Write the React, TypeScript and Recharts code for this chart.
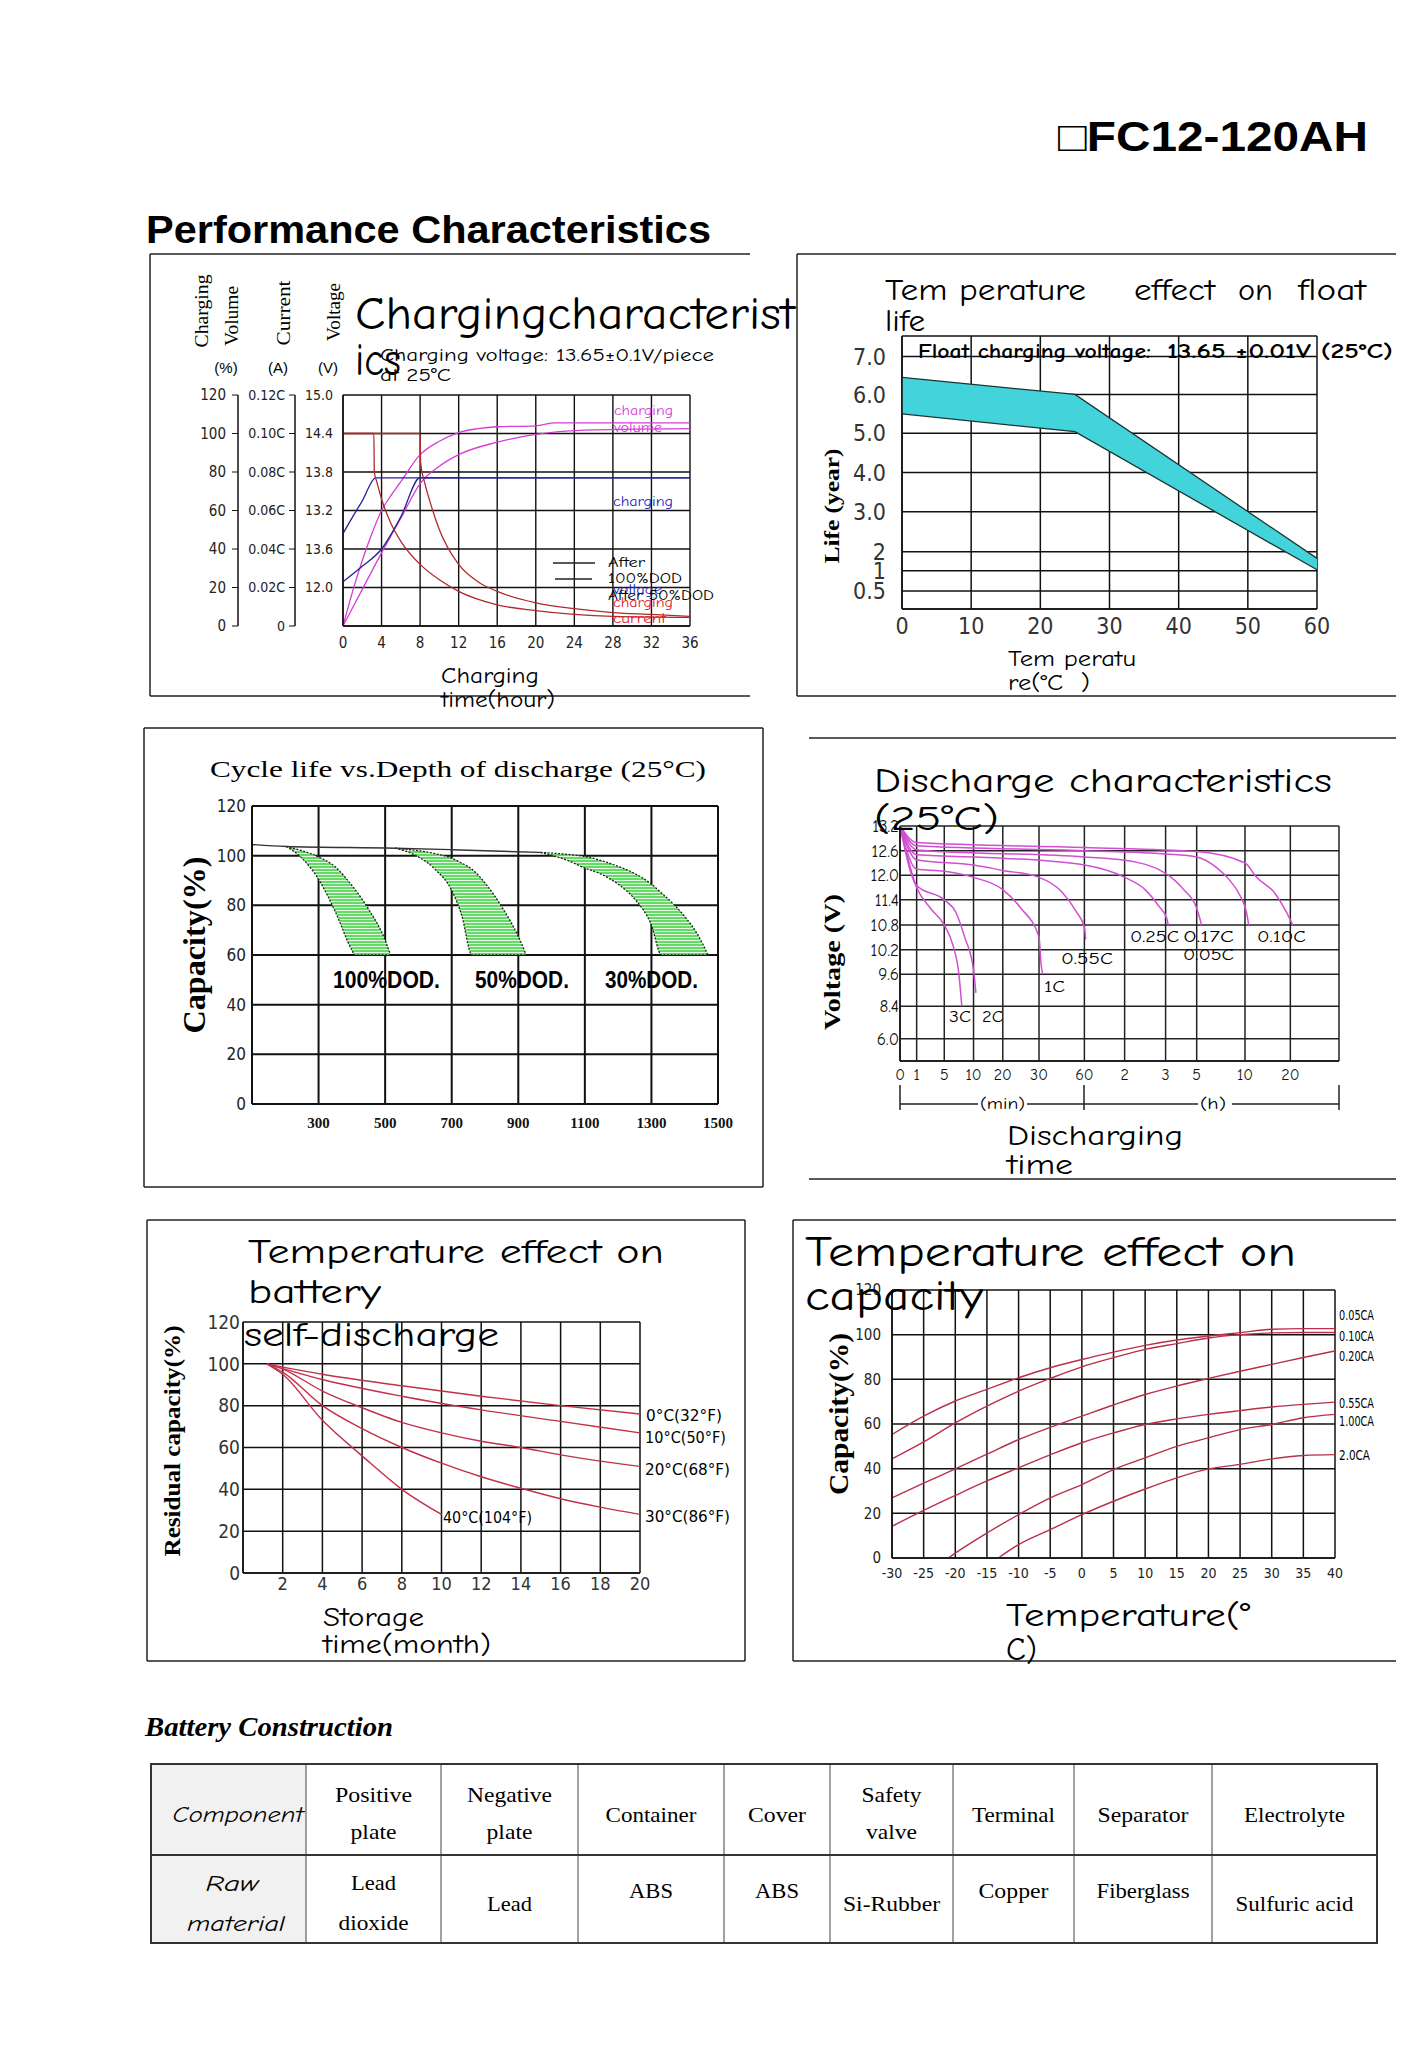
import React from 'react';
import { ComposedChart, Line, Area, XAxis, YAxis, CartesianGrid } from 'recharts';

const HAND = "'Comic Neue','Comic Sans MS','Noto Sans','DejaVu Sans',sans-serif";
const SERIF = "'Liberation Serif','Times New Roman',serif";
const SANS = "'Liberation Sans',Arial,sans-serif";
const NARROW = "'Liberation Sans Narrow','DejaVu Sans Condensed','Liberation Sans',sans-serif";
const GRID = '#111';

// ---------------- Chart 1: charging characteristics ----------------
const chargeHourTicks = [0, 4, 8, 12, 16, 20, 24, 28, 32, 36];
const volumeTicks = [0, 20, 40, 60, 80, 100, 120];
const currentTicks = [0, 0.02, 0.04, 0.06, 0.08, 0.1, 0.12];
const currentTickLabels = ['0', '0.02C', '0.04C', '0.06C', '0.08C', '0.10C', '0.12C'];
const voltageTicks = [12.0, 12.6, 13.2, 13.8, 14.4, 15.0];
const voltageTickLabels = ['12.0', '13.6', '13.2', '13.8', '14.4', '15.0'];

const volume50Hours = [0, 1, 2, 3, 4, 5, 6, 8, 10, 12, 14, 16, 20, 22, 36];
const volume50Values = [0, 18, 34, 48, 60, 68, 75, 89, 96, 100.5, 102.5, 103.5, 104, 105.5, 105.5];
const volume100Hours = [0, 2, 4, 6, 8, 10, 12, 16, 20, 24, 36];
const volume100Values = [0, 19, 38, 56, 74, 83, 89, 95.5, 99.5, 101.5, 102.5];
const voltage50Hours = [0, 1, 2, 3.4, 36];
const voltage50Values = [12.84, 13.1, 13.35, 13.71, 13.71];
const voltage100Hours = [0, 2, 4, 6, 8, 36];
const voltage100Values = [12.09, 12.33, 12.6, 13.1, 13.71, 13.71];
const current50Hours = [0, 3.2, 3.25, 3.5, 4, 5, 6, 8, 10, 12, 16, 20, 24, 28, 36];
const current50Values = [0.1, 0.1, 0.08, 0.075, 0.066, 0.053, 0.044, 0.032, 0.024, 0.018, 0.011, 0.008, 0.006, 0.005, 0.0045];
const current100Hours = [0, 8, 8.05, 8.5, 9, 10, 12, 14, 16, 20, 24, 28, 32, 36];
const current100Values = [0.1, 0.1, 0.085, 0.074, 0.065, 0.05, 0.032, 0.023, 0.018, 0.012, 0.009, 0.007, 0.006, 0.005];

// ---------------- Chart 2: temperature effect on float life ----------------
const floatTempTicks = [0, 10, 20, 30, 40, 50, 60];
const lifeTickValues = [0.5, 1, 2, 3, 4, 5, 6, 7];
const lifeTickLabels = ['0.5', '1', '2', '3.0', '4.0', '5.0', '6.0', '7.0'];
const lifeTickSpots = [0.46, 0.975, 1.46, 2.48, 3.48, 4.48, 5.47, 6.44];
const floatTemps = [0, 25, 60];
const floatLifeHigh = [6.45, 6.0, 1.65];
const floatLifeLow = [5.5, 5.04, 1.05];

// ---------------- Chart 3: cycle life vs DOD ----------------
const cycleTicks = [300, 500, 700, 900, 1100, 1300, 1500];
const capacityTicks = [0, 20, 40, 60, 80, 100, 120];
const baseCycles = [100, 203, 530, 700, 967];
const baseCapacity = [104.5, 103.7, 103, 102.4, 101.3];
const dod100Cycles = [203, 250, 300, 350, 400, 409, 450, 500, 516];
const dod100Upper = [103.7, 102, 99.5, 95.5, 88, 86.5, 78.5, 66, 60];
const dod100Lower = [103.7, 99, 90.5, 77.5, 62, 60, 60, 60, 60];
const dod50Cycles = [530, 600, 650, 700, 730, 761, 800, 850, 900, 924];
const dod50Upper = [103, 102, 100.8, 99, 97, 94.5, 89, 79.5, 67.5, 60];
const dod50Lower = [103, 99.5, 94.5, 86, 76, 60, 60, 60, 60, 60];
const dod30Cycles = [967, 1050, 1100, 1150, 1200, 1250, 1300, 1330, 1370, 1400, 1440, 1470];
const dod30Upper = [101.3, 100.5, 99.7, 98, 95.7, 92.8, 88.5, 85, 80, 75.5, 68, 60];
const dod30Lower = [101.3, 98, 95, 92.5, 88.5, 82.5, 72, 60, 60, 60, 60, 60];

// ---------------- Chart 4: discharge characteristics ----------------
const dischargeTickMinutes = [0, 1, 5, 10, 20, 30, 60, 120, 180, 300, 600, 1200, 1800];
const dischargeTickLabels = ['0', '1', '5', '10', '20', '30', '60', '2', '3', '5', '10', '20', ''];
const dischargeTickSpots = [0, 0.455, 1.21, 2.01, 2.81, 3.8, 5.04, 6.14, 7.26, 8.11, 9.43, 10.67, 12];
const dischargeVoltTicks = [6.0, 8.4, 9.6, 10.2, 10.8, 11.4, 12.0, 12.6, 13.2];
const dischargeVoltLabels = ['6.0', '8.4', '9.6', '10.2', '10.8', '11.4', '12.0', '12.6', '13.2'];
const dischargeVoltSpots = [0.91, 2.23, 3.54, 4.54, 5.54, 6.57, 7.57, 8.57, 9.58];
const d3cMin = [0, 1, 3, 5, 6.5, 7.5, 8];
const d3cVolt = [13.2, 11.7, 11.2, 10.8, 10.3, 9.6, 8.4];
const d2cMin = [0, 1, 5, 7, 8.5, 10, 10.8];
const d2cVolt = [13.2, 11.75, 11.4, 11.1, 10.5, 9.7, 8.9];
const d1cMin = [0, 1, 5, 10, 20, 25, 30, 31.5, 32.5];
const d1cVolt = [13.2, 12.15, 12.1, 11.95, 11.65, 11.2, 10.5, 9.8, 9.6];
const d055Min = [0, 1, 10, 20, 30, 45, 55, 60, 62];
const d055Volt = [13.2, 12.38, 12.25, 12.12, 11.95, 11.6, 11.1, 10.75, 10.45];
const d025Min = [0, 1, 20, 60, 120, 150, 170, 185, 190];
const d025Volt = [13.2, 12.5, 12.42, 12.25, 11.95, 11.65, 11.25, 10.95, 10.8];
const d017Min = [0, 1, 60, 120, 180, 250, 300, 320, 330];
const d017Volt = [13.2, 12.62, 12.45, 12.37, 12.05, 11.65, 11.2, 10.95, 10.8];
const d010Min = [0, 1, 60, 180, 300, 420, 500, 570, 620, 650];
const d010Volt = [13.2, 12.72, 12.6, 12.52, 12.45, 12.2, 11.9, 11.5, 11.1, 10.8];
const d005Min = [0, 1, 60, 300, 600, 750, 1000, 1150, 1230];
const d005Volt = [13.2, 12.8, 12.68, 12.58, 12.3, 11.96, 11.55, 11.1, 10.8];

// ---------------- Chart 5: self-discharge ----------------
const storageTicks = [0, 2, 4, 6, 8, 10, 12, 14, 16, 18, 20];
const residualTicks = [0, 20, 40, 60, 80, 100, 120];
const sd0Months = [1.2, 4, 8, 12, 16, 20];
const sd0Values = [100, 95, 89.5, 84.5, 80, 76];
const sd10Months = [1.2, 4, 8, 12, 16, 20];
const sd10Values = [100, 92.5, 84.5, 78, 72.5, 67];
const sd20Months = [1.2, 2, 4, 6, 8, 10, 12, 14, 16, 18, 20];
const sd20Values = [100, 97.5, 87, 79, 72, 67, 63, 60, 56.5, 53.5, 51];
const sd30Months = [1.2, 2, 4, 6, 8, 10, 12, 14, 16, 18, 20];
const sd30Values = [100, 96, 80, 69, 60, 52.5, 46, 40.5, 35.5, 31.5, 28];
const sd40Months = [1.2, 2, 4, 6, 8, 10];
const sd40Values = [100, 95, 73, 56, 40, 28];

// ---------------- Chart 6: temperature effect on capacity ----------------
const tempTicks = [-30, -25, -20, -15, -10, -5, 0, 5, 10, 15, 20, 25, 30, 35, 40];
const capTicks = [0, 20, 40, 60, 80, 100, 120];
const fullTemps = [-30, -25, -20, -15, -10, -5, 0, 5, 10, 15, 20, 25, 30, 35, 40];
const cap005 = [55.3, 63.5, 70.3, 75.5, 80.7, 85.2, 88.9, 92.2, 95.2, 97.6, 99.4, 100.9, 102.4, 102.7, 102.7];
const cap010 = [44.4, 52, 60.5, 68, 74.7, 80.4, 85.6, 89.7, 93.4, 96, 98.5, 100, 100.8, 101, 101];
const cap020 = [26.9, 33.5, 39.9, 46.5, 53, 58.5, 63.5, 68.5, 73.2, 77, 80.4, 83.6, 86.7, 89.8, 92.7];
const cap055 = [14.2, 21.3, 28, 34.5, 40.4, 46.2, 51.6, 56, 59.8, 62.3, 64.3, 66, 67.6, 68.8, 69.8];
const cap100Temps = [-21.1, -20, -15, -10, -5, 0, 5, 10, 15, 20, 25, 30, 35, 40];
const cap100 = [0, 2.2, 11.2, 19.4, 26.9, 32.9, 39.6, 44.8, 50, 53.8, 57.5, 59.8, 62.8, 64.3];
const cap200Temps = [-13.2, -10, -5, 0, 5, 10, 15, 20, 25, 30, 35, 40];
const cap200 = [0, 6, 12.7, 19.4, 25.4, 30.9, 35.9, 39.9, 41.9, 44.4, 45.9, 46.3];

// ---------------- Table ----------------
const tableComponents = ['Positive\nplate', 'Negative\nplate', 'Container', 'Cover', 'Safety\nvalve', 'Terminal', 'Separator', 'Electrolyte'];
const tableMaterials = ['Lead\ndioxide', 'Lead', 'ABS', 'ABS', 'Si-Rubber', 'Copper', 'Fiberglass', 'Sulfuric acid'];

// ---------------- helpers ----------------
function piecewise(v: number, xs: number[], ys: number[]) {
  const n = xs.length;
  if (v <= xs[0]) return ys[0] + ((v - xs[0]) * (ys[1] - ys[0])) / (xs[1] - xs[0]);
  for (let i = 1; i < n; i++) {
    if (v <= xs[i]) return ys[i - 1] + ((v - xs[i - 1]) / (xs[i] - xs[i - 1])) * (ys[i] - ys[i - 1]);
  }
  return ys[n - 1] + ((v - xs[n - 1]) * (ys[n - 1] - ys[n - 2])) / (xs[n - 1] - xs[n - 2]);
}
const zip = (xs: number[], ys: number[]) => xs.map((x, i) => ({ x, y: ys[i] }));
const idx = (arr: number[], v: number) => arr.findIndex((a) => Math.abs(a - v) < 1e-6);
const lifeSpot = (v: number) => piecewise(v, lifeTickValues, lifeTickSpots);
const minuteSpot = (m: number) => piecewise(m, dischargeTickMinutes, dischargeTickSpots);
const voltSpot = (v: number) => piecewise(v, dischargeVoltTicks, dischargeVoltSpots);
const band = (xs: number[], lo: number[], hi: number[]) => xs.map((x, i) => ({ x, band: [lo[i], hi[i]] }));
const dischargeSeries = (ms: number[], vs: number[]) => ms.map((m, i) => ({ x: minuteSpot(m), y: voltSpot(vs[i]) }));

const axisLine = { stroke: GRID, strokeWidth: 1.5 };

function ChargingChart() {
  const MAG = '#d63cd6';
  const BLUE = '#23239a';
  const RED = '#b02a2a';
  const common = { type: 'monotone' as const, dot: false, isAnimationActive: false, dataKey: 'y', xAxisId: 'h' };
  return (
    <ComposedChart width={600} height={442} margin={{ top: 141, right: 60, bottom: 40, left: 8 }}>
      <CartesianGrid xAxisId="h" yAxisId="y3" stroke={GRID} strokeWidth={1.4} />
      <XAxis xAxisId="h" type="number" dataKey="x" domain={[0, 36]} ticks={chargeHourTicks} interval={0} height={30}
        axisLine={axisLine} tickLine={false} tickSize={6} tickMargin={5}
        tick={{ fontSize: 15, fill: '#222', fontFamily: NARROW }} />
      <YAxis yAxisId="y1" type="number" domain={[11.4, 15]} ticks={voltageTicks} interval={0} width={48}
        axisLine={axisLine} tickLine={false} tickSize={6} tickMargin={4}
        tickFormatter={(v: number) => voltageTickLabels[idx(voltageTicks, v)] ?? ''}
        tick={{ fontSize: 14, fill: '#222', fontFamily: NARROW }} />
      <YAxis yAxisId="y2" type="number" domain={[0, 0.12]} ticks={currentTicks} interval={0} width={57}
        axisLine={axisLine} tickLine={{ stroke: GRID }} tickSize={6} tickMargin={4}
        tickFormatter={(v: number) => currentTickLabels[idx(currentTicks, v)] ?? ''}
        tick={{ fontSize: 14, fill: '#222', fontFamily: NARROW }} />
      <YAxis yAxisId="y3" type="number" domain={[0, 120]} ticks={volumeTicks} interval={0} width={80}
        axisLine={axisLine} tickLine={{ stroke: GRID }} tickSize={6} tickMargin={6}
        tick={{ fontSize: 15, fill: '#222', fontFamily: NARROW }} />
      <Line {...common} yAxisId="y3" data={zip(volume50Hours, volume50Values)} stroke={MAG} strokeWidth={1.3} />
      <Line {...common} yAxisId="y3" data={zip(volume100Hours, volume100Values)} stroke={MAG} strokeWidth={1.3} />
      <Line {...common} yAxisId="y1" data={zip(voltage50Hours, voltage50Values)} stroke={BLUE} strokeWidth={1.3} />
      <Line {...common} yAxisId="y1" data={zip(voltage100Hours, voltage100Values)} stroke={BLUE} strokeWidth={1.3} />
      <Line {...common} yAxisId="y2" data={zip(current50Hours, current50Values)} stroke={RED} strokeWidth={1.3} />
      <Line {...common} yAxisId="y2" data={zip(current100Hours, current100Values)} stroke={RED} strokeWidth={1.3} />
    </ComposedChart>
  );
}

function FloatLifeChart() {
  const rows = floatTemps.map((t, i) => ({ x: t, band: [lifeSpot(floatLifeLow[i]), lifeSpot(floatLifeHigh[i])] }));
  return (
    <ComposedChart width={600} height={442} data={rows} margin={{ top: 82, right: 79, bottom: 57, left: 36 }}>
      <CartesianGrid stroke={GRID} strokeWidth={1.5} />
      <XAxis type="number" dataKey="x" domain={[0, 60]} ticks={floatTempTicks} interval={0} height={30}
        axisLine={axisLine} tickLine={false} tickSize={6} tickMargin={3}
        tick={{ fontSize: 23, fill: '#333', fontFamily: NARROW }} />
      <YAxis type="number" domain={[0, 6.96]} ticks={lifeTickSpots} interval={0} width={70}
        axisLine={axisLine} tickLine={false} tickSize={6} tickMargin={10}
        tickFormatter={(v: number) => lifeTickLabels[idx(lifeTickSpots, v)] ?? ''}
        tick={{ fontSize: 23, fill: '#333', fontFamily: NARROW }} />
      <Area type="linear" dataKey="band" fill="#42d4da" fillOpacity={1} stroke="#1d3434" strokeWidth={1.3} isAnimationActive={false} />
    </ComposedChart>
  );
}

function CycleLifeChart() {
  const areaProps = { type: 'monotone' as const, dataKey: 'band', fill: 'url(#greenStripes)', fillOpacity: 1, stroke: '#222', strokeWidth: 1.3, strokeDasharray: '2 1.5', isAnimationActive: false };
  return (
    <ComposedChart width={619} height={459} margin={{ top: 78, right: 45, bottom: 53, left: 48 }}>
      <CartesianGrid stroke={GRID} strokeWidth={2} />
      <XAxis type="number" dataKey="x" domain={[100, 1500]} ticks={cycleTicks} interval={0} height={30}
        axisLine={{ stroke: GRID, strokeWidth: 2 }} tickLine={false} tickSize={6} tickMargin={7}
        tick={{ fontSize: 15, fill: '#111', fontFamily: SERIF, fontWeight: 700 }} />
      <YAxis type="number" domain={[0, 120]} ticks={capacityTicks} interval={0} width={60}
        axisLine={{ stroke: GRID, strokeWidth: 2 }} tickLine={false} tickSize={6} tickMargin={0}
        tick={{ fontSize: 17, fill: '#222', fontFamily: NARROW }} />
      <Area {...areaProps} data={band(dod100Cycles, dod100Lower, dod100Upper)} />
      <Area {...areaProps} data={band(dod50Cycles, dod50Lower, dod50Upper)} />
      <Area {...areaProps} data={band(dod30Cycles, dod30Lower, dod30Upper)} />
      <Line type="monotone" data={zip(baseCycles, baseCapacity)} dataKey="y" dot={false} stroke="#333" strokeWidth={1.4} isAnimationActive={false} />
    </ComposedChart>
  );
}

function DischargeChart() {
  const C = '#d24ed2';
  const series = [
    dischargeSeries(d3cMin, d3cVolt), dischargeSeries(d2cMin, d2cVolt), dischargeSeries(d1cMin, d1cVolt),
    dischargeSeries(d055Min, d055Volt), dischargeSeries(d025Min, d025Volt), dischargeSeries(d017Min, d017Volt),
    dischargeSeries(d010Min, d010Volt), dischargeSeries(d005Min, d005Volt),
  ];
  return (
    <ComposedChart width={587} height={440} margin={{ top: 87, right: 57, bottom: 93, left: 31 }}>
      <CartesianGrid stroke="#222" strokeWidth={1.5} />
      <XAxis type="number" dataKey="x" domain={[0, 12]} ticks={dischargeTickSpots} interval={0} height={25}
        axisLine={axisLine} tickLine={false} tickSize={6} tickMargin={2}
        tickFormatter={(v: number) => dischargeTickLabels[idx(dischargeTickSpots, v)] ?? ''}
        tick={{ fontSize: 16, fill: '#111', fontFamily: HAND }} />
      <YAxis type="number" domain={[0, 9.58]} ticks={dischargeVoltSpots} interval={0} width={60}
        axisLine={axisLine} tickLine={false} tickSize={0} tickMargin={1}
        tickFormatter={(v: number) => dischargeVoltLabels[idx(dischargeVoltSpots, v)] ?? ''}
        tick={{ fontSize: 17, fill: '#111', fontFamily: HAND }} />
      {series.map((d, i) => (
        <Line key={i} type="monotone" data={d} dataKey="y" dot={false} stroke={C} strokeWidth={1.5} isAnimationActive={false} />
      ))}
    </ComposedChart>
  );
}

function SelfDischargeChart() {
  const C = '#c4304a';
  const series = [zip(sd0Months, sd0Values), zip(sd10Months, sd10Values), zip(sd20Months, sd20Values), zip(sd30Months, sd30Values), zip(sd40Months, sd40Values)];
  return (
    <ComposedChart width={598} height={441} margin={{ top: 102, right: 105, bottom: 63, left: 46 }}>
      <CartesianGrid stroke={GRID} strokeWidth={1.5} />
      <XAxis type="number" dataKey="x" domain={[0, 20]} ticks={storageTicks} interval={0} height={25}
        axisLine={axisLine} tickLine={false} tickSize={0} tickMargin={4}
        tickFormatter={(v: number) => (v === 0 ? '' : String(v))}
        tick={{ fontSize: 18, fill: '#333', fontFamily: NARROW }} />
      <YAxis type="number" domain={[0, 120]} ticks={residualTicks} interval={0} width={50}
        axisLine={axisLine} tickLine={false} tickSize={0} tickMargin={3}
        tick={{ fontSize: 19, fill: '#333', fontFamily: NARROW }} />
      {series.map((d, i) => (
        <Line key={i} type="monotone" data={d} dataKey="y" dot={false} stroke={C} strokeWidth={1.4} isAnimationActive={false} />
      ))}
    </ComposedChart>
  );
}

function TempCapacityChart() {
  const C = '#b8304a';
  const series = [zip(fullTemps, cap005), zip(fullTemps, cap010), zip(fullTemps, cap020), zip(fullTemps, cap055), zip(cap100Temps, cap100), zip(cap200Temps, cap200)];
  return (
    <ComposedChart width={603} height={441} margin={{ top: 70, right: 61, bottom: 78, left: 59 }}>
      <CartesianGrid stroke={GRID} strokeWidth={1.5} />
      <XAxis type="number" dataKey="x" domain={[-30, 40]} ticks={tempTicks} interval={0} height={25}
        axisLine={axisLine} tickLine={false} tickSize={6} tickMargin={4}
        tick={{ fontSize: 14, fill: '#222', fontFamily: NARROW }} />
      <YAxis type="number" domain={[0, 120]} ticks={capTicks} interval={0} width={40}
        axisLine={axisLine} tickLine={false} tickSize={6} tickMargin={5}
        tick={{ fontSize: 15, fill: '#222', fontFamily: NARROW }} />
      {series.map((d, i) => (
        <Line key={i} type="monotone" data={d} dataKey="y" dot={false} stroke={C} strokeWidth={1.4} isAnimationActive={false} />
      ))}
    </ComposedChart>
  );
}

type Ann = { t: string; x: number; y: number; s: number; w?: number; f?: string; b?: number; c?: string; it?: boolean; a?: 'start' | 'middle' | 'end'; r?: boolean };

const MAGT = '#d63cd6';
const BLUET = '#2323c0';
const REDT = '#e0202a';

const annotations: Ann[] = [
  { t: '\u25A1FC12-120AH', x: 1058, y: 151, s: 42, w: 310, f: SANS, b: 700 },
  { t: 'Performance Characteristics', x: 146, y: 243, s: 38, w: 565, f: SANS, b: 700 },
  // chart 1
  { t: 'Chargingcharacterist', x: 355, y: 329, s: 46, w: 440 },
  { t: 'ics', x: 355, y: 375, s: 46, w: 46 },
  { t: 'Charging voltage: 13.65±0.1V/piece', x: 380, y: 361, s: 18, w: 334 },
  { t: 'at 25°C', x: 380, y: 381, s: 18, w: 71 },
  { t: 'Charging', x: 201, y: 311, s: 19, w: 73, f: SERIF, r: true },
  { t: 'Volume', x: 231, y: 316, s: 19, w: 60, f: SERIF, r: true },
  { t: 'Current', x: 283, y: 313, s: 19, w: 65, f: SERIF, r: true },
  { t: 'Voltage', x: 333, y: 312, s: 19, w: 58, f: SERIF, r: true },
  { t: '(%)', x: 226, y: 373, s: 15, f: SANS, a: 'middle' },
  { t: '(A)', x: 278, y: 373, s: 15, f: SANS, a: 'middle' },
  { t: '(V)', x: 328, y: 373, s: 15, f: SANS, a: 'middle' },
  { t: 'charging', x: 614, y: 415, s: 14, w: 59, c: MAGT },
  { t: 'volume', x: 614, y: 432, s: 14, w: 48, c: MAGT },
  { t: 'charging', x: 613, y: 506, s: 14, w: 60, c: BLUET },
  { t: 'After', x: 608, y: 567, s: 14, w: 37 },
  { t: '100%DOD', x: 608, y: 583, s: 14, w: 74 },
  { t: 'voltage', x: 613, y: 594, s: 14, w: 49, c: BLUET },
  { t: 'After 50%DOD', x: 608, y: 600, s: 14, w: 106 },
  { t: 'charging', x: 613, y: 607, s: 14, w: 60, c: REDT },
  { t: 'current', x: 613, y: 623, s: 14, w: 53, c: REDT },
  { t: 'Charging', x: 441, y: 683, s: 22, w: 98 },
  { t: 'time(hour)', x: 441, y: 707, s: 22, w: 114 },
  // chart 2
  { t: 'Tem perature', x: 885, y: 300, s: 31, w: 201 },
  { t: 'effect', x: 1134, y: 300, s: 31, w: 81 },
  { t: 'on', x: 1238, y: 300, s: 31, w: 35 },
  { t: 'float', x: 1298, y: 300, s: 31, w: 68 },
  { t: 'life', x: 885, y: 331, s: 31, w: 40 },
  { t: 'Float charging voltage:', x: 918, y: 358, s: 20, w: 233, b: 600 },
  { t: '13.65 ±0.01V (25°C)', x: 1167, y: 358, s: 20, w: 226, b: 600 },
  { t: 'Life (year)', x: 831, y: 506, s: 22, w: 115, f: SERIF, b: 700, r: true },
  { t: 'Tem peratu', x: 1008, y: 666, s: 22, w: 128 },
  { t: 're(°C\u00a0\u00a0)', x: 1008, y: 690, s: 22, w: 82 },
  // chart 3
  { t: 'Cycle life vs.Depth of discharge (25°C)', x: 210, y: 777, s: 24, w: 496, f: SERIF },
  { t: '100%DOD.', x: 333, y: 988, s: 23, w: 107, f: SANS, b: 700 },
  { t: '50%DOD.', x: 475, y: 988, s: 23, w: 94, f: SANS, b: 700 },
  { t: '30%DOD.', x: 605, y: 988, s: 23, w: 93, f: SANS, b: 700 },
  { t: 'Capacity(%)', x: 194, y: 945, s: 32, w: 177, f: SERIF, b: 700, r: true },
  // chart 4
  { t: 'Discharge characteristics', x: 874, y: 792, s: 35, w: 458 },
  { t: '(25°C)', x: 874, y: 830, s: 35, w: 125 },
  { t: '0.25C', x: 1130, y: 942, s: 16, w: 49 },
  { t: '0.17C', x: 1183, y: 942, s: 16, w: 51 },
  { t: '0.10C', x: 1257, y: 942, s: 16, w: 49 },
  { t: '0.05C', x: 1183, y: 960, s: 16, w: 51 },
  { t: '0.55C', x: 1061, y: 964, s: 16, w: 52 },
  { t: '1C', x: 1044, y: 992, s: 16, w: 21 },
  { t: '3C', x: 949, y: 1022, s: 16, w: 22 },
  { t: '2C', x: 982, y: 1022, s: 16, w: 21 },
  { t: 'Voltage (V)', x: 832, y: 962, s: 24, w: 136, f: SERIF, b: 700, r: true },
  { t: '(min)', x: 980, y: 1109, s: 15, w: 45 },
  { t: '(h)', x: 1200, y: 1109, s: 15, w: 26 },
  { t: 'Discharging', x: 1007, y: 1145, s: 28, w: 176 },
  { t: 'time', x: 1007, y: 1174, s: 28, w: 66 },
  // chart 5
  { t: 'Temperature effect on', x: 248, y: 1263, s: 35, w: 416 },
  { t: 'battery', x: 248, y: 1303, s: 35, w: 133 },
  { t: 'self-discharge', x: 244, y: 1346, s: 35, w: 255 },
  { t: '0°C(32°F)', x: 646, y: 1421, s: 16, w: 76, f: NARROW },
  { t: '10°C(50°F)', x: 645, y: 1443, s: 16, w: 81, f: NARROW },
  { t: '20°C(68°F)', x: 645, y: 1475, s: 16, w: 85, f: NARROW },
  { t: '30°C(86°F)', x: 645, y: 1522, s: 16, w: 85, f: NARROW },
  { t: '40°C(104°F)', x: 443, y: 1523, s: 16, w: 89, f: NARROW },
  { t: 'Residual capacity(%)', x: 172, y: 1441, s: 24, w: 231, f: SERIF, b: 700, r: true },
  { t: 'Storage', x: 323, y: 1626, s: 27, w: 101 },
  { t: 'time(month)', x: 323, y: 1653, s: 27, w: 168 },
  // chart 6
  { t: 'Temperature effect on', x: 805, y: 1266, s: 42, w: 491 },
  { t: 'capacity', x: 805, y: 1310, s: 42, w: 178 },
  { t: '0.05CA', x: 1339, y: 1320, s: 14, w: 35, f: NARROW },
  { t: '0.10CA', x: 1339, y: 1341, s: 14, w: 35, f: NARROW },
  { t: '0.20CA', x: 1339, y: 1361, s: 14, w: 35, f: NARROW },
  { t: '0.55CA', x: 1339, y: 1408, s: 14, w: 35, f: NARROW },
  { t: '1.00CA', x: 1339, y: 1426, s: 14, w: 35, f: NARROW },
  { t: '2.0CA', x: 1339, y: 1460, s: 14, w: 31, f: NARROW },
  { t: 'Capacity(%)', x: 838, y: 1414, s: 28, w: 162, f: SERIF, b: 700, r: true },
  { t: 'Temperature(°', x: 1006, y: 1626, s: 33, w: 244 },
  { t: 'C)', x: 1006, y: 1660, s: 33, w: 31 },
  // table
  { t: 'Battery Construction', x: 145, y: 1736, s: 27, w: 248, f: SERIF, b: 700, it: true },
  { t: 'Component', x: 238, y: 1822, s: 21, w: 131, it: true, a: 'middle' },
  { t: 'Raw', x: 232, y: 1891, s: 21, w: 53, it: true, a: 'middle' },
  { t: 'material', x: 236, y: 1931, s: 21, w: 98, it: true, a: 'middle' },
];

const tableColEdges = [151, 306, 441, 578, 724, 830, 953, 1074, 1212, 1377];
const tableTop = 1764;
const tableMid = 1855;
const tableBottom = 1943;
const materialRowY = [1890, 1911, 1898, 1898, 1911, 1898, 1898, 1911];

function Txt({ t, x, y, s, w, f, b, c, it, a, r }: Ann) {
  const p: any = {
    x, y, fontSize: s, fontFamily: f ?? HAND, fontWeight: b ?? 400, fill: c ?? '#000',
    fontStyle: it ? 'italic' : 'normal', textAnchor: a ?? 'start',
  };
  if (w) { p.textLength = w; p.lengthAdjust = 'spacingAndGlyphs'; }
  if (r) { p.transform = `rotate(-90 ${x} ${y})`; p.dominantBaseline = 'central'; p.textAnchor = 'middle'; }
  return <text {...p}>{t}</text>;
}

const boxLines: [number, number, number, number][] = [
  [150, 254, 150, 696], [150, 254, 750, 254], [150, 696, 750, 696],
  [797, 254, 797, 696], [797, 254, 1396, 254], [797, 696, 1396, 696],
  [144, 728, 763, 728], [144, 1187, 763, 1187], [144, 728, 144, 1187], [763, 728, 763, 1187],
  [809, 738, 1396, 738], [809, 1179, 1396, 1179],
  [147, 1220, 745, 1220], [147, 1661, 745, 1661], [147, 1220, 147, 1661], [745, 1220, 745, 1661],
  [793, 1220, 1396, 1220], [793, 1661, 1396, 1661], [793, 1220, 793, 1661],
  [553, 563, 595, 563], [555, 579, 592, 579],
  [900, 1085, 900, 1110], [1084, 1085, 1084, 1110], [1339, 1085, 1339, 1110],
  [900, 1104, 978, 1104], [1027, 1104, 1198, 1104], [1232, 1104, 1339, 1104],
];

function Table() {
  const centers = tableColEdges.slice(1, -1).map((e, i) => (e + tableColEdges[i + 2]) / 2);
  const widthsTop: Record<string, number> = { Positive: 77, plate: 46, Negative: 85, Container: 91, Cover: 58, Safety: 60, valve: 51, Terminal: 83, Separator: 91, Electrolyte: 101 };
  const widthsBottom: Record<string, number> = { Lead: 45, dioxide: 70, ABS: 44, 'Si-Rubber': 97, Copper: 70, Fiberglass: 93, 'Sulfuric acid': 118 };
  const out: React.ReactNode[] = [];
  tableComponents.forEach((label, i) => {
    const lines = label.split('\n');
    const ys = lines.length === 2 ? [1802, 1839] : [1822];
    lines.forEach((ln, j) => out.push(
      <text key={`c${i}${j}`} x={centers[i]} y={ys[j]} fontSize={22} fontFamily={SERIF} textAnchor="middle" textLength={widthsTop[ln]} lengthAdjust="spacingAndGlyphs">{ln}</text>
    ));
  });
  tableMaterials.forEach((label, i) => {
    const lines = label.split('\n');
    const ys = lines.length === 2 ? [1890, 1930] : [materialRowY[i]];
    lines.forEach((ln, j) => out.push(
      <text key={`m${i}${j}`} x={centers[i]} y={ys[j]} fontSize={22} fontFamily={SERIF} textAnchor="middle" textLength={widthsBottom[ln]} lengthAdjust="spacingAndGlyphs">{ln}</text>
    ));
  });
  return (
    <g>
      <rect x={tableColEdges[0]} y={tableTop} width={tableColEdges[1] - tableColEdges[0]} height={tableBottom - tableTop} fill="#f1f1f1" />
      {tableColEdges.slice(1, -1).map((x) => (
        <line key={x} x1={x} y1={tableTop} x2={x} y2={tableBottom} stroke="#444" strokeWidth={1} />
      ))}
      <line x1={tableColEdges[0]} y1={tableMid} x2={tableColEdges[9]} y2={tableMid} stroke="#333" strokeWidth={2} />
      <rect x={tableColEdges[0]} y={tableTop} width={tableColEdges[9] - tableColEdges[0]} height={tableBottom - tableTop} fill="none" stroke="#333" strokeWidth={2} />
      {out}
    </g>
  );
}

export default function App() {
  return (
    <div style={{ position: 'absolute', left: 0, top: 0, width: 1416, height: 2048, background: '#fff', overflow: 'hidden' }}>
      <svg width={0} height={0} style={{ position: 'absolute' }}>
        <defs>
          <pattern id="greenStripes" width="6" height="3" patternUnits="userSpaceOnUse">
            <rect width="6" height="3" fill="#66da66" />
            <rect y="2" width="6" height="1" fill="#e2f8e2" />
          </pattern>
        </defs>
      </svg>
      <div style={{ position: 'absolute', left: 150, top: 254 }}><ChargingChart /></div>
      <div style={{ position: 'absolute', left: 796, top: 254 }}><FloatLifeChart /></div>
      <div style={{ position: 'absolute', left: 144, top: 728 }}><CycleLifeChart /></div>
      <div style={{ position: 'absolute', left: 809, top: 739 }}><DischargeChart /></div>
      <div style={{ position: 'absolute', left: 147, top: 1220 }}><SelfDischargeChart /></div>
      <div style={{ position: 'absolute', left: 793, top: 1220 }}><TempCapacityChart /></div>
      <svg width={1416} height={2048} style={{ position: 'absolute', left: 0, top: 0, pointerEvents: 'none' }}>
        {boxLines.map(([x1, y1, x2, y2], i) => (
          <line key={i} x1={x1} y1={y1} x2={x2} y2={y2} stroke="#222" strokeWidth={1.5} />
        ))}
        <Table />
        {annotations.map((a, i) => <Txt key={i} {...a} />)}
      </svg>
    </div>
  );
}
